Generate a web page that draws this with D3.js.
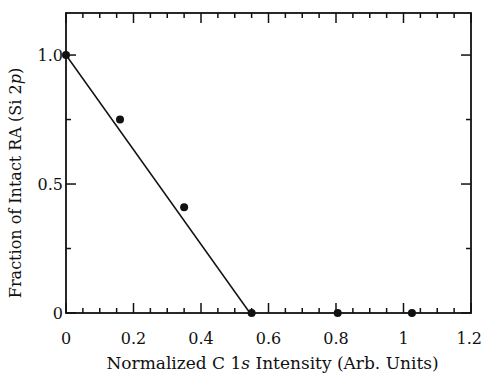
<!DOCTYPE html>
<html>
<head>
<meta charset="utf-8">
<script src="https://cdn.jsdelivr.net/npm/d3@7"></script>
<style>
  body { margin: 0; background: #fff; }
</style>
</head>
<body>
<div id="chart"></div>
<script>
// measured points
const intensity = [0, 0.16, 0.35, 0.55, 0.805, 1.025];
const fraction = [1.0, 0.75, 0.41, 0, 0, 0];
// linear fit drawn through the data
const fitX = [0, 0.545];
const fitY = [1.0, 0];

const xTicks = [0, 0.2, 0.4, 0.6, 0.8, 1, 1.2];
const xMinor = d3.range(0, 1.2001, 0.05);
const yTicks = [0, 0.5, 1.0];
const yMinor = [0.25, 0.75];

const serif = "'DejaVu Serif', 'Liberation Serif', serif";

const width = 483, height = 375;
const margin = { top: 13, right: 12, bottom: 62, left: 66 };

const svg = d3.select("#chart")
    .append("svg")
    .attr("width", width)
    .attr("height", height)
    .attr("viewBox", [0, 0, width, height])
    .style("font-family", serif);

const xScale = d3.scaleLinear([0, 1.2], [margin.left, width - margin.right]);
const yScale = d3.scaleLinear([0, 1.163], [height - margin.bottom, margin.top]);

const x0 = xScale.range()[0], x1 = xScale.range()[1];
const y0 = yScale.range()[0], y1 = yScale.range()[1];

// ticks, pointing inward on all four sides
const tickG = svg.append("g").attr("stroke", "#111").attr("stroke-width", 1.5);
const isMajor = v => xTicks.some(t => Math.abs(t - v) < 1e-6);
xMinor.forEach(v => {
    const len = isMajor(v) ? 10 : 5;
    tickG.append("line").attr("x1", xScale(v)).attr("x2", xScale(v)).attr("y1", y0).attr("y2", y0 - len);
    tickG.append("line").attr("x1", xScale(v)).attr("x2", xScale(v)).attr("y1", y1).attr("y2", y1 + len);
});
yTicks.concat(yMinor).forEach(v => {
    const len = yTicks.includes(v) ? 10 : 5;
    tickG.append("line").attr("y1", yScale(v)).attr("y2", yScale(v)).attr("x1", x0).attr("x2", x0 + len);
    tickG.append("line").attr("y1", yScale(v)).attr("y2", yScale(v)).attr("x1", x1).attr("x2", x1 - len);
});

// frame
svg.append("rect")
    .attr("x", x0).attr("y", y1)
    .attr("width", x1 - x0).attr("height", y0 - y1)
    .attr("fill", "none")
    .attr("stroke", "#111")
    .attr("stroke-width", 1.8);

// tick labels
svg.append("g")
    .selectAll("text")
    .data(xTicks)
    .join("text")
    .attr("x", d => xScale(d))
    .attr("y", y0 + 31)
    .attr("text-anchor", "middle")
    .attr("fill", "#111")
    .style("font-family", serif)
    .style("font-size", "16px")
    .text(d => d3.format("~g")(d))
    .each(function () {
        // keep the last label inside the page
        const b = this.getBBox();
        if (b.x + b.width > width - 1) {
            d3.select(this).attr("x", +this.getAttribute("x") - (b.x + b.width - width + 1));
        }
    });

svg.append("g")
    .selectAll("text")
    .data(yTicks)
    .join("text")
    .attr("x", x0 - 3)
    .attr("y", d => yScale(d) + 6)
    .attr("text-anchor", "end")
    .attr("fill", "#111")
    .style("font-family", serif)
    .style("font-size", "16px")
    .text(d => d === 0 ? "0" : d3.format(".1f")(d));

// axis titles
const xt = svg.append("text")
    .attr("x", (x0 + x1) / 2 + 4)
    .attr("y", height - 6)
    .attr("text-anchor", "middle")
    .attr("fill", "#111")
    .style("font-family", serif)
    .style("font-size", "17px");
xt.append("tspan").text("Normalized C 1");
xt.append("tspan").style("font-style", "italic").text("s");
xt.append("tspan").text(" Intensity (Arb. Units)");

const yt = svg.append("text")
    .attr("transform", `translate(21,${(y0 + y1) / 2 + 20}) rotate(-90)`)
    .attr("text-anchor", "middle")
    .attr("fill", "#111")
    .style("font-family", serif)
    .style("font-size", "16px");
yt.append("tspan").text("Fraction of Intact RA (Si 2");
yt.append("tspan").style("font-style", "italic").text("p");
yt.append("tspan").text(")");

// fit line
svg.append("path")
    .datum(d3.zip(fitX, fitY))
    .attr("fill", "none")
    .attr("stroke", "#111")
    .attr("stroke-width", 1.5)
    .attr("d", d3.line(d => xScale(d[0]), d => yScale(d[1])));

// data points
svg.append("g")
    .selectAll("circle")
    .data(d3.zip(intensity, fraction))
    .join("circle")
    .attr("cx", d => xScale(d[0]))
    .attr("cy", d => yScale(d[1]))
    .attr("r", 4)
    .attr("fill", "#111");
</script>
</body>
</html>
